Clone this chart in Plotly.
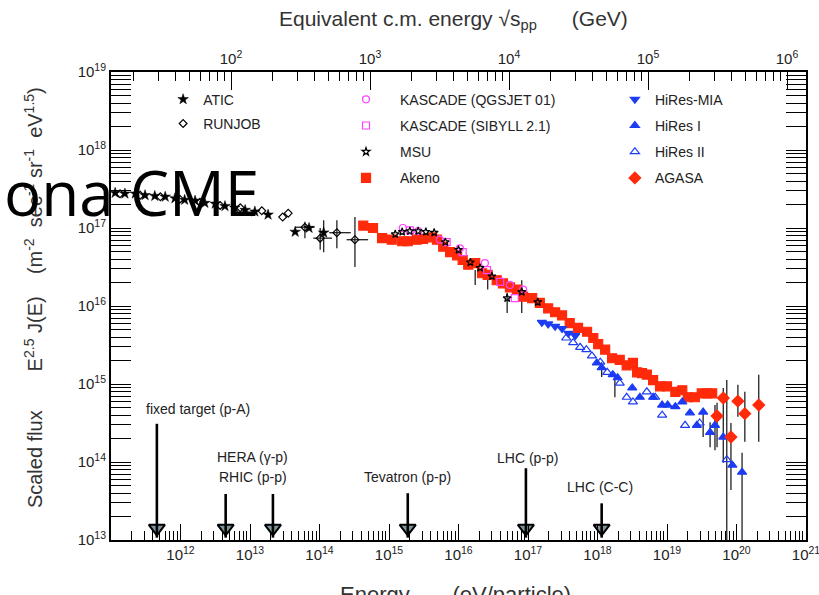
import math
import plotly.graph_objects as go

# ---------------- data (log10 values) ----------------
# Energy in eV/particle (log10), scaled flux E^2.5 J(E) (log10)
ATIC_logE = [11.06, 11.20, 11.35, 11.49, 11.63, 11.78, 11.92, 12.06, 12.21, 12.35,
             12.50, 12.64, 12.78, 12.93, 13.07, 13.26, 13.65, 13.85, 14.06]
ATIC_logF = [17.45, 17.44, 17.44, 17.42, 17.41, 17.40, 17.38, 17.36, 17.35, 17.32,
             17.31, 17.28, 17.26, 17.23, 17.21, 17.17, 16.95, 17.00, 16.94]

RUNJOB_logE = [11.13, 11.42, 11.71, 11.99, 12.28, 12.57, 12.86, 13.17, 13.47, 13.55,
               13.79, 14.01, 14.25, 14.51]
RUNJOB_logF = [17.44, 17.42, 17.40, 17.37, 17.33, 17.29, 17.26, 17.22, 17.14, 17.19,
               17.01, 16.87, 16.94, 16.85]

KQGS_logE = [15.20, 15.42, 15.73, 16.02, 16.38, 16.74, 16.93]
KQGS_logF = [17.00, 16.96, 16.85, 16.74, 16.55, 16.27, 16.21]

KSIB_logE = [15.30, 15.83, 16.06, 16.41, 16.60, 16.81]
KSIB_logF = [16.97, 16.82, 16.69, 16.46, 16.31, 16.10]

MSU_logE = [15.09, 15.19, 15.30, 15.42, 15.53, 15.65, 15.81, 16.00, 16.17, 16.31,
            16.48, 16.70, 16.91, 17.14]
MSU_logF = [16.92, 16.95, 16.96, 16.96, 16.95, 16.94, 16.82, 16.72, 16.56, 16.49,
            16.38, 16.10, 16.18, 16.05]

AKENO_logE = [14.63, 14.77, 14.90, 15.04, 15.19, 15.27, 15.40, 15.49, 15.62, 15.69,
              15.78, 15.88, 15.98, 16.06, 16.14, 16.24, 16.34, 16.42, 16.55, 16.64,
              16.74, 16.84, 16.93, 17.06, 17.17, 17.29, 17.39, 17.49, 17.60, 17.72,
              17.85, 17.94, 18.01, 18.11, 18.21, 18.32, 18.42, 18.51, 18.57, 18.64,
              18.71, 18.80, 18.90, 19.00, 19.12, 19.22, 19.30, 19.40, 19.50, 19.58,
              19.65]
AKENO_logF = [17.03, 17.00, 16.87, 16.85, 16.83, 16.83, 16.85, 16.86, 16.88, 16.85,
              16.76, 16.69, 16.65, 16.59, 16.53, 16.55, 16.42, 16.40, 16.33, 16.29,
              16.24, 16.21, 16.12, 16.10, 16.04, 15.97, 15.92, 15.88, 15.78, 15.72,
              15.67, 15.59, 15.51, 15.44, 15.33, 15.31, 15.24, 15.27, 15.15, 15.14,
              15.12, 15.05, 14.97, 14.97, 14.90, 14.92, 14.83, 14.83, 14.88, 14.88,
              14.88]

MIA_logE = [17.20, 17.29, 17.39, 17.49, 17.58, 17.68]
MIA_logF = [15.79, 15.77, 15.74, 15.71, 15.65, 15.62]

HIRES1_logE = [17.99, 18.06, 18.22, 18.29, 18.50, 18.61, 18.80, 18.93, 19.01, 19.12,
               19.22, 19.33, 19.43, 19.52, 19.62, 19.69, 19.81, 19.94, 20.08]
HIRES1_logF = [15.27, 15.21, 15.12, 15.08, 14.95, 14.83, 14.83, 14.73, 14.73, 14.71,
               14.77, 14.63, 14.47, 14.64, 14.38, 14.47, 14.32, 13.96, 13.87]

HIRES2_logE = [17.55, 17.65, 17.75, 17.84, 17.92, 18.04, 18.14, 18.32, 18.42, 18.51,
               18.71, 18.83, 18.93, 19.26, 19.47, 19.86]
HIRES2_logF = [15.59, 15.53, 15.47, 15.44, 15.36, 15.28, 15.15, 15.01, 14.83, 14.77,
               14.90, 14.83, 14.60, 14.47, 14.50, 14.03]

AGASA_logE = [19.72, 19.81, 19.92, 20.02, 20.12, 20.32]
AGASA_logF = [14.59, 14.82, 14.32, 14.78, 14.62, 14.73]

# vertical error bars: log10 E, lower and upper log10 flux
ERR_logE = [13.79, 14.01, 14.06, 14.25, 14.51, 16.24, 16.42, 16.70, 16.91,
            18.06, 18.25, 19.52, 19.62, 19.69, 19.72, 19.81, 19.86, 19.92, 20.02,
            20.08, 20.12, 20.32]
ERR_lo = [16.87, 16.72, 16.69, 16.74, 16.50, 16.27, 16.21, 15.91, 15.91,
          15.09, 14.83, 14.32, 14.19, 14.15, 14.19, 13.99, 13.00, 13.64, 14.58,
          13.00, 14.26, 14.26]
ERR_hi = [17.08, 17.00, 17.10, 17.10, 17.14, 16.46, 16.44, 16.17, 16.33,
          15.28, 15.12, 14.64, 14.51, 14.73, 14.76, 14.95, 15.05, 14.50, 14.99,
          14.12, 14.90, 15.12]
# horizontal error bars (RUNJOB): flux, energy range
HERR_logF = [17.01, 16.87, 16.94, 16.85]
HERR_lo = [13.65, 13.91, 14.14, 14.39]
HERR_hi = [13.93, 14.18, 14.45, 14.70]

# accelerator equivalent energies
ACC_names = ["fixed target (p-A)", "HERA (γ-p)", "RHIC (p-p)", "Tevatron (p-p)",
             "LHC (p-p)", "LHC (C-C)"]
ACC_logE = [11.66, 12.65, 13.33, 15.27, 16.97, 18.06]
ACC_top_logF = [14.49, 13.59, 13.59, 13.60, 13.92, 13.47]
ACC_label_logE = [12.25, 13.04, 13.04, 15.27, 16.99, 18.04]
ACC_label_logF = [14.68, 14.06, 13.81, 13.81, 14.05, 13.68]
HEAD_MID_logF = 13.15
HEAD_TIP_logF = 13.03

E_RANGE = [11, 21]
F_RANGE = [13, 19]
SQS_TICKS = [2, 3, 4, 5, 6]
PROTON_MASS_GEV = 0.938


def pw(v):
    return [10.0 ** x for x in v]


def sqrt_s_log(logE):
    # equivalent c.m. energy (GeV) for a fixed-target pp collision
    return 0.5 * math.log10(2 * PROTON_MASS_GEV * 10.0 ** logE / 1e9)


fig = go.Figure()

FONT = "Liberation Sans, Arial, sans-serif"
BLUE = "#1d3cf2"
RED = "#ff2a0a"
MAG = "#ff44ff"


def pts(name, lx, ly, symbol, color, size, legend, lw=1.2, lcolor=None):
    fig.add_trace(go.Scatter(
        x=pw(lx), y=pw(ly), mode="markers", name=name, legend=legend,
        legendgroup=name,
        marker=dict(symbol=symbol, color=color, size=size,
                    line=dict(width=lw, color=lcolor or color)),
    ))


# error bars (drawn first)
ex, ey = [], []
for e, lo, hi in zip(ERR_logE, ERR_lo, ERR_hi):
    ex += [10.0 ** e, 10.0 ** e, None]
    ey += [10.0 ** lo, 10.0 ** hi, None]
for f, lo, hi in zip(HERR_logF, HERR_lo, HERR_hi):
    ex += [10.0 ** lo, 10.0 ** hi, None]
    ey += [10.0 ** f, 10.0 ** f, None]
fig.add_trace(go.Scatter(x=ex, y=ey, mode="lines", showlegend=False,
                         line=dict(color="#222222", width=1.3), hoverinfo="skip"))

pts("Akeno", AKENO_logE, AKENO_logF, "square", RED, 9, "legend2")
pts("KASCADE (QGSJET 01)", KQGS_logE, KQGS_logF, "circle-open", MAG, 7, "legend2")
pts("KASCADE (SIBYLL 2.1)", KSIB_logE, KSIB_logF, "square-open", MAG, 7, "legend2")
pts("MSU", MSU_logE, MSU_logF, "star-open", "black", 6, "legend2")
pts("HiRes-MIA", MIA_logE, MIA_logF, "triangle-down", BLUE, 8, "legend3")
pts("HiRes I", HIRES1_logE, HIRES1_logF, "triangle-up", BLUE, 8, "legend3")
pts("HiRes II", HIRES2_logE, HIRES2_logF, "triangle-up-open", BLUE, 8, "legend3")
pts("AGASA", AGASA_logE, AGASA_logF, "diamond", RED, 9, "legend3")
pts("ATIC", ATIC_logE, ATIC_logF, "star", "black", 8, "legend", lw=0.5)
pts("RUNJOB", RUNJOB_logE, RUNJOB_logF, "diamond-open", "black", 6, "legend")

# reorder legend entries to match the reference
order = {"ATIC": 1, "RUNJOB": 2, "KASCADE (QGSJET 01)": 3, "KASCADE (SIBYLL 2.1)": 4,
         "MSU": 5, "Akeno": 6, "HiRes-MIA": 7, "HiRes I": 8, "HiRes II": 9, "AGASA": 10}
for tr in fig.data:
    if tr.name in order:
        tr.legendrank = order[tr.name]

# accelerator arrows: heads, then shafts running down to the tip
fig.add_trace(go.Scatter(x=pw(ACC_logE), y=[10.0 ** HEAD_MID_logF] * len(ACC_logE),
                         mode="markers", showlegend=False, hoverinfo="skip",
                         marker=dict(symbol="triangle-down", size=14, color="#7e939c",
                                     line=dict(color="black", width=2))))
sx, sy = [], []
for e, top in zip(ACC_logE, ACC_top_logF):
    sx += [10.0 ** e, 10.0 ** e, None]
    sy += [10.0 ** top, 10.0 ** HEAD_TIP_logF, None]
fig.add_trace(go.Scatter(x=sx, y=sy, mode="lines", showlegend=False,
                         line=dict(color="black", width=2.6), hoverinfo="skip"))
for name, lx, ly in zip(ACC_names, ACC_label_logE, ACC_label_logF):
    fig.add_annotation(x=lx, y=ly, xref="x", yref="y", text=name, showarrow=False,
                       font=dict(family=FONT, size=14, color="#222222"))

# dummy trace to activate top axis
fig.add_trace(go.Scatter(x=[10.0 ** sqrt_s_log(14)], y=[1e13], xaxis="x2", mode="markers",
                         marker=dict(opacity=0), showlegend=False, hoverinfo="skip"))


def minor_vals(lo, hi):
    out = []
    for d in range(lo, hi):
        for m in range(2, 10):
            out.append(m * 10.0 ** d)
    return out


def sup_labels(exps):
    return ["10<sup>%d</sup>" % k for k in exps]


tickfont = dict(family=FONT, size=15, color="#222222")
legfont = dict(family=FONT, size=14, color="#222222")
fig.update_layout(
    width=819, height=595,
    margin=dict(l=111, r=13, t=72, b=55),
    plot_bgcolor="white", paper_bgcolor="white",
    xaxis=dict(type="log", range=E_RANGE, showgrid=False, zeroline=False,
               showline=True, linewidth=2, linecolor="black",
               tickmode="array", tickvals=[10.0 ** k for k in range(12, 22)],
               ticktext=sup_labels(range(12, 22)), ticklabeloverflow="allow",
               ticks="inside", ticklen=16, tickwidth=1.3, tickcolor="black",
               tickfont=tickfont, automargin=False,
               minor=dict(tickmode="array", tickvals=minor_vals(11, 21), ticks="inside",
                          ticklen=9, tickwidth=1.1, tickcolor="black", showgrid=False)),
    xaxis2=dict(type="log", overlaying="x", side="top", anchor="y",
                range=[sqrt_s_log(E_RANGE[0]), sqrt_s_log(E_RANGE[1])],
                showgrid=False, zeroline=False, showline=True, linewidth=2,
                linecolor="black", tickmode="array", ticklabeloverflow="allow",
                tickvals=[10.0 ** k for k in SQS_TICKS], ticktext=sup_labels(SQS_TICKS),
                ticks="inside", ticklen=18, tickwidth=1.3, tickcolor="black",
                tickfont=tickfont, automargin=False,
                minor=dict(tickmode="array", tickvals=minor_vals(1, 7), ticks="inside",
                           ticklen=9, tickwidth=1.1, tickcolor="black", showgrid=False)),
    yaxis=dict(type="log", range=F_RANGE, showgrid=False, zeroline=False,
               showline=True, linewidth=2, linecolor="black", mirror="allticks",
               tickmode="array", tickvals=[10.0 ** k for k in range(13, 20)],
               ticktext=sup_labels(range(13, 20)),
               ticks="inside", ticklen=20, tickwidth=1.3, tickcolor="black",
               tickfont=tickfont, automargin=False,
               minor=dict(tickmode="array", tickvals=minor_vals(13, 19), ticks="inside",
                          ticklen=10, tickwidth=1.1, tickcolor="black", showgrid=False)),
    legend=dict(x=0.075, y=0.975, xanchor="left", yanchor="top", bgcolor="rgba(0,0,0,0)",
                font=legfont, tracegroupgap=3, itemwidth=30),
    legend2=dict(x=0.318, y=0.975, xanchor="left", yanchor="top", bgcolor="rgba(0,0,0,0)",
                 font=legfont, tracegroupgap=5, itemwidth=58),
    legend3=dict(x=0.725, y=0.975, xanchor="left", yanchor="top", bgcolor="rgba(0,0,0,0)",
                 font=legfont, tracegroupgap=5, itemwidth=30),
)

NB = "\u00a0"
# axis titles and overlay text
fig.add_annotation(xref="paper", yref="paper", x=-0.133, y=0.517, textangle=-90,
                   showarrow=False,
                   text="Scaled flux" + NB * 7 + "E<sup>2.5</sup> J(E)" + NB * 4 +
                        "(m<sup>-2</sup>" + NB * 2 + "sec<sup>-1</sup>" + NB + "sr<sup>-1</sup>" +
                        NB * 2 + "eV<sup>1.5</sup>)",
                   font=dict(family=FONT, size=20, color="#333333"))
fig.add_annotation(xref="paper", yref="paper", x=0.4935, y=1.143, showarrow=False,
                   text="Equivalent c.m. energy √s<sub>pp</sub>" + NB * 6 + "(GeV)",
                   font=dict(family=FONT, size=21, color="#333333"))
fig.add_annotation(xref="paper", yref="paper", x=0.495, y=-0.0855, yanchor="top",
                   showarrow=False,
                   text="Energy" + NB * 7 + "(eV/particle)",
                   font=dict(family=FONT, size=22, color="#333333"))
fig.add_annotation(xref="paper", yref="paper", x=0.216, y=0.7436, xanchor="right",
                   yanchor="middle", showarrow=False, text="ona CME",
                   font=dict(family="Open Sans, sans-serif", size=62, color="black"))

fig.write_html("out.html", config={"displayModeBar": False},
               post_script="document.body.style.margin='0px';")
